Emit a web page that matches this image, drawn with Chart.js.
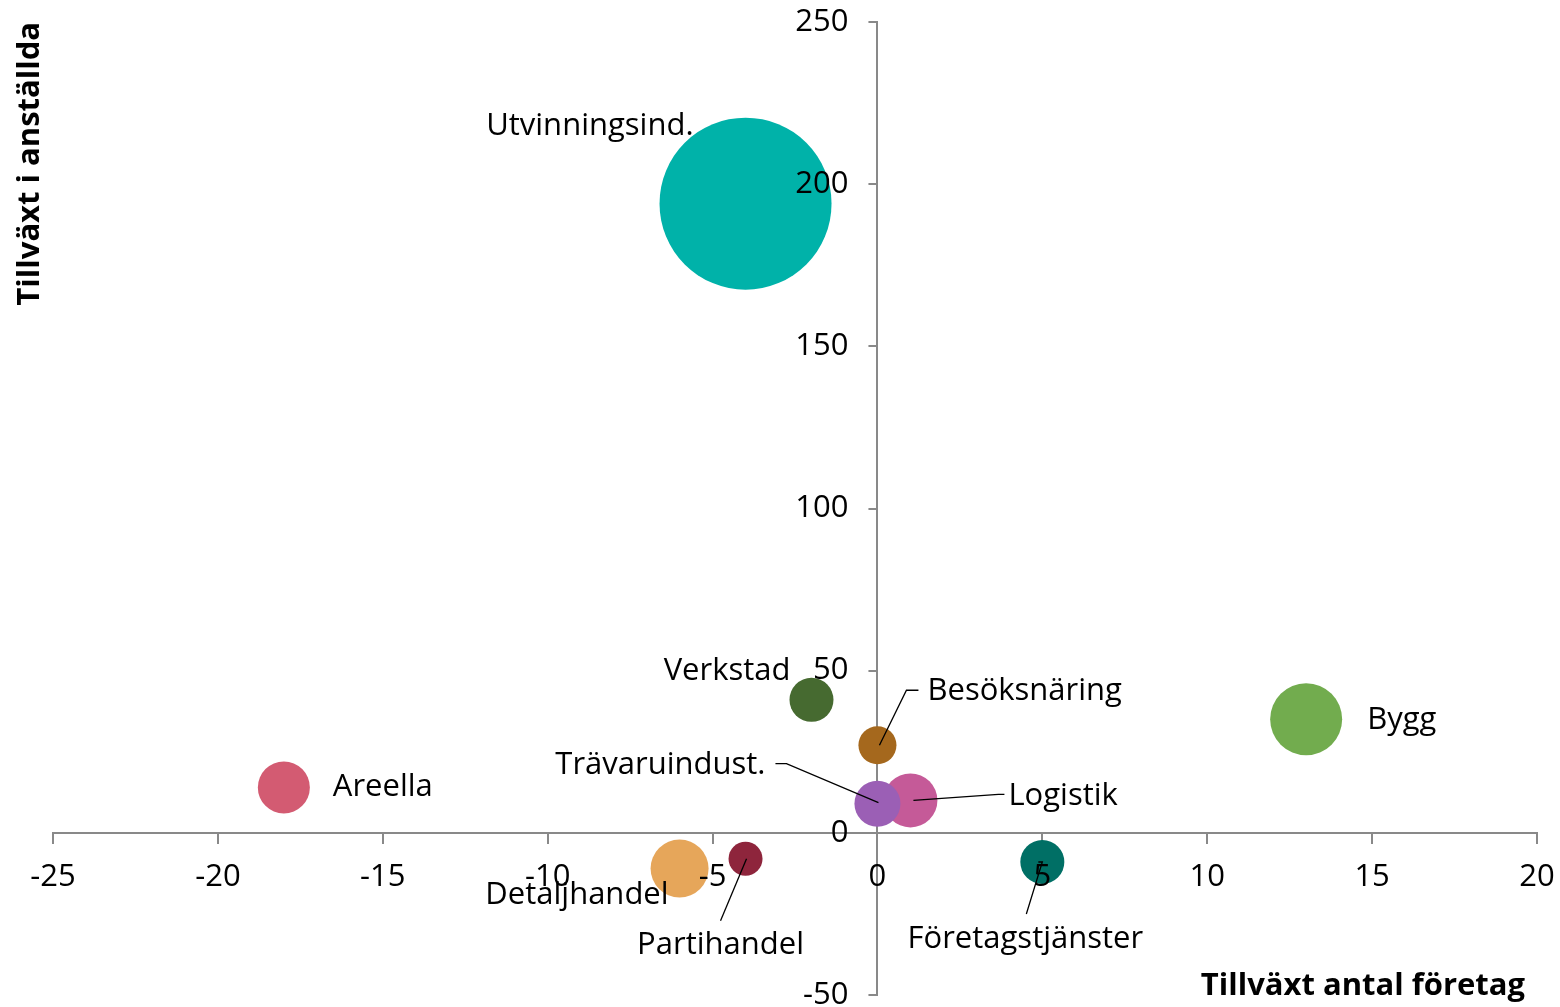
<!DOCTYPE html>
<html lang="sv">
<head>
<meta charset="utf-8">
<script src="https://cdn.jsdelivr.net/npm/chart.js@4.4.1/dist/chart.umd.min.js"></script>
<style>
  html, body { margin: 0; padding: 0; background: #fff; }
  #wrap { width: 1560px; height: 1007px; }
</style>
</head>
<body>
<div id="wrap"><canvas id="c"></canvas></div>
<script>
// data
const branscher = ['Utvinningsind.', 'Verkstad', 'Besöksnäring', 'Logistik', 'Trävaruindust.', 'Bygg', 'Areella', 'Detaljhandel', 'Partihandel', 'Företagstjänster'];
const tillvaxtForetag = [-4, -2, 0, 1, 0, 13, -18, -6, -4, 5];
const tillvaxtAnstallda = [194, 41, 27, 10, 9, 35, 14, -11, -8, -9];
const storlek = [86, 22, 19, 27, 23, 36, 26, 29, 17, 22];
const xTicks = [-25, -20, -15, -10, -5, 0, 5, 10, 15, 20];
const yTicks = [-50, 0, 50, 100, 150, 200, 250];

const farger = ['#00B2A9', '#466A30', '#A5681D', '#C55A98', '#9B5FB5', '#72AC4E', '#D35B72', '#E6A65A', '#8E253C', '#006F65'];

// label placement relative to bubble centre (px)
const etiketter = [
  { dx: -52, dy: -77, align: 'right' },
  { dx: -21, dy: -29, align: 'right' },
  { dx: 50, dy: -54, align: 'left', line: [[2, 0], [29, -55], [41, -55]] },
  { dx: 98, dy: -4, align: 'left', line: [[3, 0], [88, -6], [94, -6]] },
  { dx: -112, dy: -38, align: 'right', line: [[1, -1], [-91, -40], [-102, -40]] },
  { dx: 61, dy: 1, align: 'left' },
  { dx: 49, dy: 0, align: 'left' },
  { dx: -11, dy: 27, align: 'right' },
  { dx: -25, dy: 86, align: 'center', line: [[1, 0], [-25, 62]] },
  { dx: -17, dy: 77, align: 'center', line: [[-4, 0], [0, 0], [-16, 52]] }
];

const FONT = "'Open Sans', 'Noto Sans', sans-serif";
const AXIS = '#898989';

const punkter = branscher.map((b, i) => ({ x: tillvaxtForetag[i], y: tillvaxtAnstallda[i], r: storlek[i] }));

function nollPadding(s) {
  s.paddingLeft = s.paddingRight = s.paddingTop = s.paddingBottom = 0;
}

// put the y axis on x = 0 after layout
const axelPlugin = {
  id: 'axlar',
  afterLayout(chart) {
    const x0 = chart.scales.x.getPixelForValue(0);
    chart.scales.y.left = 0;
    chart.scales.y.right = x0;
  }
};

const etikettPlugin = {
  id: 'etiketter',
  afterDatasetsDraw(chart) {
    const ctx = chart.ctx;
    const sx = chart.scales.x, sy = chart.scales.y;
    ctx.save();
    ctx.font = '31px ' + FONT;
    ctx.fillStyle = '#000';
    ctx.strokeStyle = '#000';
    ctx.lineWidth = 1.3;
    ctx.textBaseline = 'middle';
    punkter.forEach((p, i) => {
      const cx = sx.getPixelForValue(p.x), cy = sy.getPixelForValue(p.y);
      const e = etiketter[i];
      if (e.line) {
        ctx.beginPath();
        e.line.forEach((pt, k) => {
          if (k === 0) ctx.moveTo(cx + pt[0], cy + pt[1]);
          else ctx.lineTo(cx + pt[0], cy + pt[1]);
        });
        ctx.stroke();
      }
      ctx.textAlign = e.align;
      ctx.fillText(branscher[i], cx + e.dx, cy + e.dy);
    });
    // axis titles
    ctx.font = 'bold 31px ' + FONT;
    ctx.textAlign = 'right';
    ctx.fillText('Tillväxt antal företag', 1525, 986);
    ctx.translate(30, 22);
    ctx.rotate(-Math.PI / 2);
    ctx.textAlign = 'right';
    ctx.fillText('Tillväxt i anställda', 0, 0);
    ctx.restore();
  }
};

new Chart(document.getElementById('c'), {
  type: 'bubble',
  data: {
    datasets: [{
      data: punkter,
      backgroundColor: farger,
      borderWidth: 0,
      hoverBorderWidth: 0,
      hoverRadius: 0,
      clip: false
    }]
  },
  options: {
    responsive: true,
    maintainAspectRatio: false,
    animation: false,
    events: [],
    layout: { autoPadding: false, padding: { left: 53, right: 23, top: 22, bottom: 12 } },
    plugins: { legend: { display: false }, tooltip: { enabled: false } },
    scales: {
      x: {
        type: 'linear',
        position: { y: 0 },
        min: -25, max: 20,
        afterBuildTicks: s => { s.ticks = xTicks.map(v => ({ value: v })); },
        afterFit: s => { s.height = 0; nollPadding(s); },
        border: { color: AXIS, width: 2 },
        grid: { drawOnChartArea: false, drawTicks: true, tickLength: 10, color: AXIS, lineWidth: 2 },
        ticks: { z: 1, color: '#000', font: { family: FONT, size: 31 }, padding: 16, maxRotation: 0, autoSkip: false }
      },
      y: {
        type: 'linear',
        position: 'left',
        min: -50, max: 250,
        afterBuildTicks: s => { s.ticks = yTicks.map(v => ({ value: v })); },
        afterFit: s => { s.width = 0; nollPadding(s); },
        border: { color: AXIS, width: 2 },
        grid: { drawOnChartArea: false, drawTicks: true, tickLength: 9, color: AXIS, lineWidth: 2 },
        ticks: { z: 1, color: '#000', font: { family: FONT, size: 31 }, padding: 20, autoSkip: false }
      }
    }
  },
  plugins: [axelPlugin, etikettPlugin]
});
</script>
</body>
</html>
